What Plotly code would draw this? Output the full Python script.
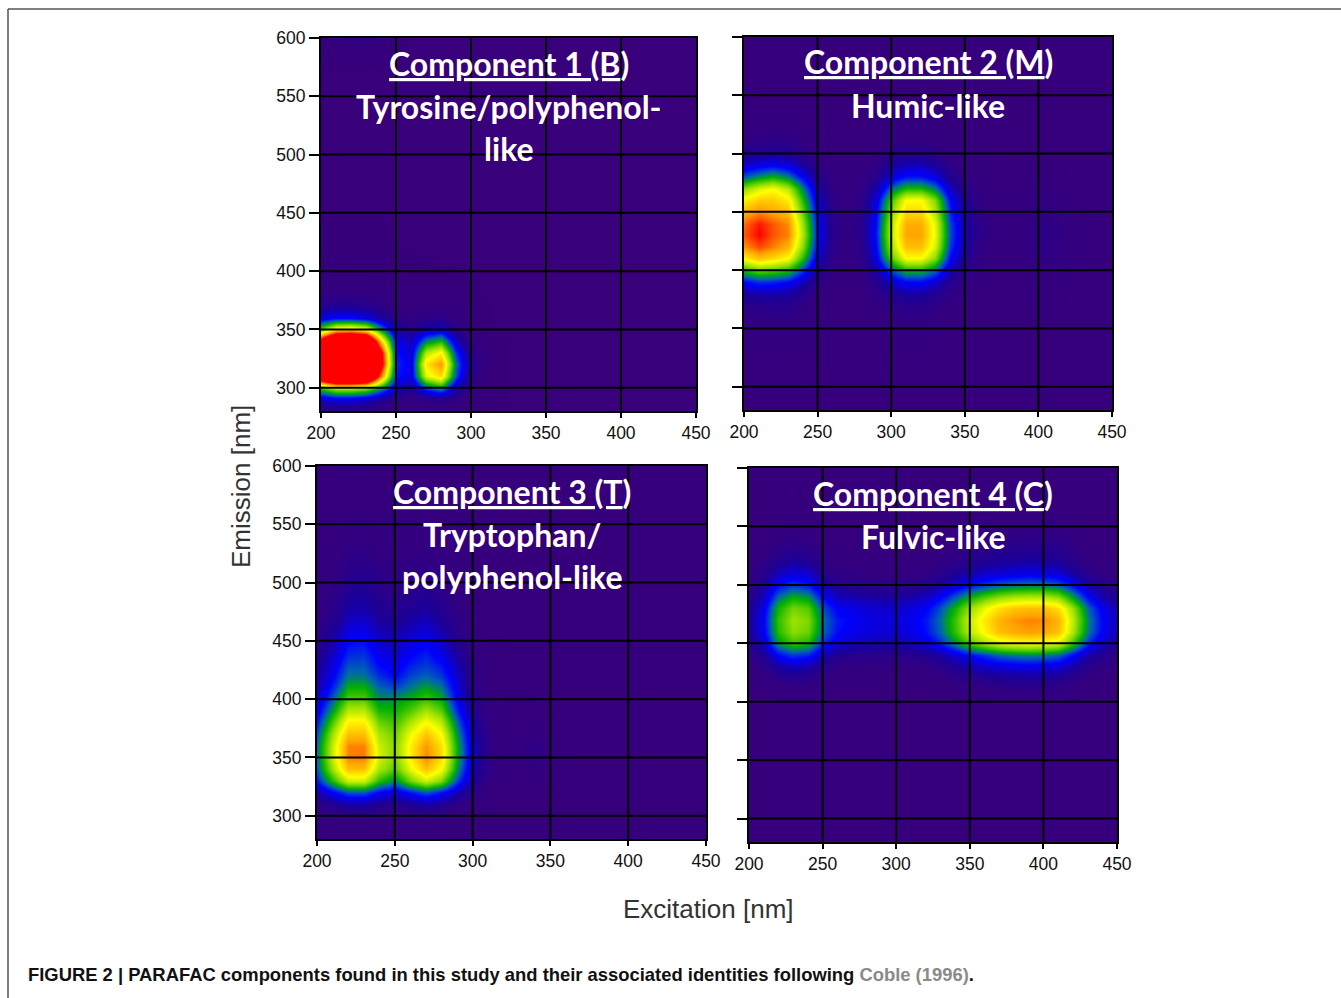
import plotly.graph_objects as go

# Excitation / emission grid (nm)
EXCITATION = [200, 210, 220, 230, 240, 250, 260, 270, 280, 290, 300, 310, 320,
              330, 340, 350, 360, 370, 380, 390, 400, 410, 420, 430, 440, 450]
EMISSION = [280, 290, 300, 310, 320, 330, 340, 350, 360, 370, 380, 390, 400, 410,
            420, 430, 440, 450, 460, 470, 480, 490, 500, 510, 520, 530, 540, 550,
            560, 570, 580, 590, 600]

EX_TICKS = [200, 250, 300, 350, 400, 450]
EM_TICKS = [300, 350, 400, 450, 500, 550, 600]

# Component loadings (relative intensity, %), one row per emission wavelength
C1_Z = [
    [8, 9, 9, 8, 6, 4, 3, 4, 5, 4, 2, 1, 0, 0, 0, 0, 0, 0, 0, 0, 0, 0, 0, 0, 0, 0],
    [22, 25, 25, 22, 16, 9, 6, 10, 12, 9, 4, 2, 1, 0, 0, 0, 0, 0, 0, 0, 0, 0, 0, 0, 0, 0],
    [50, 62, 62, 58, 42, 22, 16, 34, 42, 19, 8, 3, 1, 0, 0, 0, 0, 0, 0, 0, 0, 0, 0, 0, 0, 0],
    [130, 160, 160, 150, 88, 30, 24, 66, 76, 34, 12, 4, 1, 0, 0, 0, 0, 0, 0, 0, 0, 0, 0, 0, 0, 0],
    [150, 170, 170, 160, 108, 32, 25, 74, 86, 38, 14, 5, 1, 0, 0, 0, 0, 0, 0, 0, 0, 0, 0, 0, 0, 0],
    [145, 165, 165, 155, 105, 30, 23, 62, 72, 32, 12, 4, 1, 0, 0, 0, 0, 0, 0, 0, 0, 0, 0, 0, 0, 0],
    [110, 150, 150, 140, 78, 26, 20, 40, 47, 21, 8, 3, 1, 0, 0, 0, 0, 0, 0, 0, 0, 0, 0, 0, 0, 0],
    [52, 72, 75, 68, 40, 18, 12, 19, 22, 10, 5, 2, 0, 0, 0, 0, 0, 0, 0, 0, 0, 0, 0, 0, 0, 0],
    [24, 28, 28, 25, 17, 10, 7, 10, 12, 6, 3, 1, 0, 0, 0, 0, 0, 0, 0, 0, 0, 0, 0, 0, 0, 0],
    [13, 15, 15, 13, 10, 6, 4, 5, 6, 4, 2, 1, 0, 0, 0, 0, 0, 0, 0, 0, 0, 0, 0, 0, 0, 0],
    [7, 8, 8, 7, 6, 4, 3, 3, 3, 2, 1, 0, 0, 0, 0, 0, 0, 0, 0, 0, 0, 0, 0, 0, 0, 0],
    [4, 5, 5, 4, 4, 3, 2, 2, 2, 1, 1, 0, 0, 0, 0, 0, 0, 0, 0, 0, 0, 0, 0, 0, 0, 0],
    [3, 3, 3, 3, 2, 2, 1, 1, 1, 1, 0, 0, 0, 0, 0, 0, 0, 0, 0, 0, 0, 0, 0, 0, 0, 0],
    [2, 2, 2, 2, 2, 1, 1, 1, 0, 0, 0, 0, 0, 0, 0, 0, 0, 0, 0, 0, 0, 0, 0, 0, 0, 0],
    [1, 1, 1, 1, 1, 1, 0, 0, 0, 0, 0, 0, 0, 0, 0, 0, 0, 0, 0, 0, 0, 0, 0, 0, 0, 0],
    [1, 1, 1, 1, 1, 0, 0, 0, 0, 0, 0, 0, 0, 0, 0, 0, 0, 0, 0, 0, 0, 0, 0, 0, 0, 0],
    [1, 1, 1, 1, 1, 0, 0, 0, 0, 0, 0, 0, 0, 0, 0, 0, 0, 0, 0, 0, 0, 0, 0, 0, 0, 0],
    [0, 0, 0, 0, 0, 0, 0, 0, 0, 0, 0, 0, 0, 0, 0, 0, 0, 0, 0, 0, 0, 0, 0, 0, 0, 0],
    [0, 0, 0, 0, 0, 0, 0, 0, 0, 0, 0, 0, 0, 0, 0, 0, 0, 0, 0, 0, 0, 0, 0, 0, 0, 0],
    [0, 0, 0, 0, 0, 0, 0, 0, 0, 0, 0, 0, 0, 0, 0, 0, 0, 0, 0, 0, 0, 0, 0, 0, 0, 0],
    [0, 0, 0, 0, 0, 0, 0, 0, 0, 0, 0, 0, 0, 0, 0, 0, 0, 0, 0, 0, 0, 0, 0, 0, 0, 0],
    [0, 0, 0, 0, 0, 0, 0, 0, 0, 0, 0, 0, 0, 0, 0, 0, 0, 0, 0, 0, 0, 0, 0, 0, 0, 0],
    [0, 0, 0, 0, 0, 0, 0, 0, 0, 0, 0, 0, 0, 0, 0, 0, 0, 0, 0, 0, 0, 0, 0, 0, 0, 0],
    [0, 0, 0, 0, 0, 0, 0, 0, 0, 0, 0, 0, 0, 0, 0, 0, 0, 0, 0, 0, 0, 0, 0, 0, 0, 0],
    [0, 0, 0, 0, 0, 0, 0, 0, 0, 0, 0, 0, 0, 0, 0, 0, 0, 0, 0, 0, 0, 0, 0, 0, 0, 0],
    [0, 0, 0, 0, 0, 0, 0, 0, 0, 0, 0, 0, 0, 0, 0, 0, 0, 0, 0, 0, 0, 0, 0, 0, 0, 0],
    [0, 0, 0, 0, 0, 0, 0, 0, 0, 0, 0, 0, 0, 0, 0, 0, 0, 0, 0, 0, 0, 0, 0, 0, 0, 0],
    [0, 0, 0, 0, 0, 0, 0, 0, 0, 0, 0, 0, 0, 0, 0, 0, 0, 0, 0, 0, 0, 0, 0, 0, 0, 0],
    [0, 0, 0, 0, 0, 0, 0, 0, 0, 0, 0, 0, 0, 0, 0, 0, 0, 0, 0, 0, 0, 0, 0, 0, 0, 0],
    [0, 0, 0, 0, 0, 0, 0, 0, 0, 0, 0, 0, 0, 0, 0, 0, 0, 0, 0, 0, 0, 0, 0, 0, 0, 0],
    [1, 1, 2, 2, 1, 0, 0, 0, 0, 0, 0, 0, 0, 0, 0, 0, 0, 0, 0, 0, 0, 0, 0, 0, 0, 0],
    [2, 3, 4, 4, 3, 1, 0, 0, 0, 0, 0, 0, 0, 0, 0, 0, 0, 0, 0, 0, 0, 0, 0, 0, 0, 0],
    [4, 6, 9, 9, 6, 2, 0, 0, 0, 0, 0, 0, 0, 0, 0, 0, 0, 0, 0, 0, 0, 0, 0, 0, 0, 0],
]

C2_Z = [
    [2, 2, 2, 2, 2, 2, 2, 2, 2, 2, 2, 2, 2, 2, 2, 2, 2, 2, 2, 2, 2, 2, 2, 2, 2, 2],
    [2, 2, 2, 2, 2, 2, 2, 2, 2, 2, 2, 2, 2, 2, 2, 2, 2, 2, 2, 2, 2, 2, 2, 2, 2, 2],
    [3, 3, 3, 3, 3, 2, 2, 2, 2, 2, 2, 2, 2, 2, 2, 2, 2, 2, 2, 2, 2, 2, 2, 2, 2, 2],
    [3, 3, 3, 3, 3, 3, 2, 2, 2, 2, 3, 3, 3, 3, 2, 2, 2, 2, 2, 2, 2, 2, 2, 2, 2, 2],
    [4, 4, 4, 4, 4, 3, 3, 2, 2, 3, 3, 4, 4, 3, 3, 2, 2, 2, 2, 2, 2, 2, 2, 2, 2, 2],
    [4, 5, 5, 5, 4, 3, 3, 2, 3, 3, 4, 5, 5, 4, 3, 3, 2, 2, 2, 2, 2, 2, 2, 2, 2, 2],
    [5, 6, 6, 6, 5, 4, 3, 3, 3, 4, 5, 6, 6, 5, 4, 3, 2, 2, 2, 2, 2, 2, 2, 2, 2, 2],
    [6, 7, 7, 7, 6, 4, 3, 3, 3, 4, 6, 7, 7, 6, 5, 3, 3, 2, 2, 2, 2, 2, 2, 2, 2, 2],
    [8, 9, 9, 9, 7, 5, 3, 3, 4, 5, 7, 9, 9, 7, 5, 4, 3, 2, 2, 2, 3, 3, 2, 2, 2, 2],
    [11, 12, 12, 12, 9, 6, 4, 3, 4, 7, 10, 12, 12, 10, 7, 5, 3, 3, 2, 3, 3, 3, 3, 2, 2, 2],
    [17, 19, 19, 18, 13, 7, 4, 3, 5, 9, 14, 18, 18, 14, 9, 6, 4, 3, 3, 3, 4, 4, 3, 2, 2, 2],
    [28, 32, 31, 28, 20, 10, 5, 4, 6, 12, 22, 28, 28, 23, 13, 8, 5, 3, 3, 4, 5, 5, 4, 3, 2, 2],
    [48, 54, 52, 48, 33, 15, 7, 5, 8, 18, 35, 46, 46, 38, 20, 10, 6, 4, 4, 5, 6, 6, 5, 3, 2, 2],
    [72, 80, 76, 70, 48, 22, 10, 6, 10, 25, 52, 70, 70, 57, 28, 14, 8, 5, 5, 6, 8, 8, 6, 4, 3, 2],
    [86, 93, 88, 82, 56, 26, 11, 7, 11, 28, 59, 80, 80, 65, 33, 17, 9, 6, 6, 7, 9, 9, 6, 4, 3, 2],
    [92, 100, 92, 88, 60, 28, 12, 8, 12, 30, 62, 84, 84, 68, 35, 18, 10, 7, 6, 7, 9, 9, 6, 4, 3, 2],
    [90, 98, 92, 87, 58, 27, 12, 8, 12, 29, 61, 83, 83, 67, 34, 18, 10, 7, 6, 7, 9, 9, 6, 4, 3, 2],
    [82, 87, 84, 80, 53, 25, 11, 7, 11, 27, 56, 76, 76, 61, 31, 16, 9, 6, 6, 6, 8, 8, 5, 4, 3, 2],
    [72, 78, 78, 73, 47, 22, 10, 6, 10, 24, 50, 70, 70, 56, 28, 14, 8, 6, 5, 6, 7, 7, 5, 3, 2, 2],
    [58, 66, 70, 62, 40, 18, 9, 6, 9, 18, 38, 48, 48, 40, 21, 11, 7, 5, 4, 5, 5, 5, 4, 3, 2, 2],
    [36, 42, 46, 40, 27, 13, 7, 5, 7, 12, 24, 30, 30, 25, 14, 8, 6, 4, 4, 4, 4, 4, 3, 2, 2, 2],
    [22, 25, 27, 24, 17, 9, 5, 4, 5, 9, 16, 20, 20, 16, 10, 6, 4, 3, 3, 3, 3, 3, 3, 2, 2, 2],
    [14, 15, 16, 15, 11, 7, 4, 3, 4, 7, 11, 13, 13, 11, 7, 5, 3, 3, 2, 2, 2, 2, 2, 2, 2, 2],
    [9, 10, 10, 10, 8, 5, 3, 3, 3, 5, 7, 8, 8, 7, 5, 3, 3, 2, 2, 2, 2, 2, 2, 2, 2, 2],
    [6, 7, 7, 7, 6, 4, 3, 2, 3, 3, 5, 6, 6, 5, 3, 3, 2, 2, 2, 2, 2, 2, 2, 2, 2, 2],
    [4, 5, 5, 5, 4, 3, 2, 2, 2, 3, 3, 4, 4, 3, 3, 2, 2, 2, 2, 2, 2, 2, 2, 2, 2, 2],
    [3, 3, 3, 3, 3, 3, 2, 2, 2, 2, 3, 3, 3, 3, 2, 2, 2, 2, 2, 2, 2, 2, 2, 2, 2, 2],
    [2, 2, 2, 2, 2, 2, 2, 2, 2, 2, 2, 2, 2, 2, 2, 2, 2, 2, 2, 2, 2, 2, 2, 2, 2, 2],
    [2, 2, 2, 2, 2, 2, 2, 2, 2, 2, 2, 2, 2, 2, 2, 2, 2, 2, 2, 2, 2, 2, 2, 2, 2, 2],
    [2, 2, 2, 2, 2, 2, 2, 2, 2, 2, 2, 2, 2, 2, 2, 2, 2, 2, 2, 2, 2, 2, 2, 2, 2, 2],
    [2, 2, 2, 2, 2, 2, 2, 2, 2, 2, 2, 2, 2, 2, 2, 2, 2, 2, 2, 2, 2, 2, 2, 2, 2, 2],
    [2, 2, 2, 2, 2, 2, 2, 2, 2, 2, 2, 2, 2, 2, 2, 2, 2, 2, 2, 2, 2, 2, 2, 2, 2, 2],
    [2, 2, 2, 2, 2, 2, 2, 2, 2, 2, 2, 2, 2, 2, 2, 2, 2, 2, 2, 2, 2, 2, 2, 2, 2, 2],
]

C3_Z = [
    [3, 3, 3, 3, 3, 3, 3, 3, 3, 2, 2, 2, 2, 2, 2, 2, 2, 2, 2, 2, 2, 2, 2, 2, 2, 2],
    [4, 4, 4, 4, 4, 4, 4, 4, 4, 3, 2, 2, 2, 2, 2, 2, 2, 2, 2, 2, 2, 2, 2, 2, 2, 2],
    [6, 7, 8, 8, 7, 6, 7, 8, 7, 5, 3, 2, 2, 2, 2, 2, 2, 2, 2, 2, 2, 2, 2, 2, 2, 2],
    [10, 14, 18, 18, 14, 12, 15, 18, 15, 10, 5, 3, 2, 2, 2, 2, 2, 2, 2, 2, 2, 2, 2, 2, 2, 2],
    [18, 28, 36, 36, 28, 24, 30, 36, 30, 20, 10, 5, 3, 2, 2, 2, 2, 2, 2, 2, 2, 2, 2, 2, 2, 2],
    [30, 48, 64, 64, 48, 40, 54, 64, 56, 34, 16, 7, 4, 3, 3, 3, 2, 2, 2, 2, 2, 2, 2, 2, 2, 2],
    [36, 60, 80, 80, 60, 52, 67, 80, 70, 42, 19, 9, 5, 5, 7, 4, 3, 2, 2, 2, 2, 2, 2, 2, 2, 2],
    [38, 64, 88, 89, 65, 56, 72, 88, 76, 45, 21, 10, 6, 7, 10, 5, 3, 2, 2, 2, 2, 2, 2, 2, 2, 2],
    [38, 64, 88, 88, 64, 56, 72, 86, 75, 45, 21, 10, 6, 7, 10, 5, 3, 2, 2, 2, 2, 2, 2, 2, 2, 2],
    [35, 60, 80, 80, 60, 54, 68, 79, 70, 42, 19, 9, 5, 5, 7, 4, 3, 2, 2, 2, 2, 2, 2, 2, 2, 2],
    [30, 52, 72, 72, 54, 50, 60, 70, 62, 37, 17, 8, 5, 4, 3, 3, 2, 2, 2, 2, 2, 2, 2, 2, 2, 2],
    [25, 44, 62, 62, 47, 46, 52, 60, 53, 31, 14, 7, 4, 3, 3, 2, 2, 2, 2, 2, 2, 2, 2, 2, 2, 2],
    [21, 37, 52, 52, 41, 42, 45, 50, 45, 27, 12, 6, 4, 3, 3, 2, 2, 2, 2, 2, 2, 2, 2, 2, 2, 2],
    [18, 31, 45, 45, 37, 34, 39, 43, 39, 24, 11, 5, 3, 3, 2, 2, 2, 2, 2, 2, 2, 2, 2, 2, 2, 2],
    [16, 27, 39, 39, 32, 28, 34, 37, 33, 22, 10, 5, 3, 3, 2, 2, 2, 2, 2, 2, 2, 2, 2, 2, 2, 2],
    [14, 24, 35, 35, 28, 25, 30, 33, 29, 19, 9, 4, 3, 2, 2, 2, 2, 2, 2, 2, 2, 2, 2, 2, 2, 2],
    [12, 21, 31, 32, 25, 22, 27, 30, 25, 16, 8, 4, 3, 2, 2, 2, 2, 2, 2, 2, 2, 2, 2, 2, 2, 2],
    [10, 18, 28, 29, 22, 20, 24, 27, 22, 13, 7, 4, 3, 2, 2, 2, 2, 2, 2, 2, 2, 2, 2, 2, 2, 2],
    [9, 15, 24, 25, 19, 17, 20, 23, 18, 11, 6, 3, 2, 2, 2, 2, 2, 2, 2, 2, 2, 2, 2, 2, 2, 2],
    [7, 12, 20, 21, 16, 14, 17, 19, 15, 9, 5, 3, 2, 2, 2, 2, 2, 2, 2, 2, 2, 2, 2, 2, 2, 2],
    [6, 11, 17, 18, 14, 12, 14, 16, 13, 8, 4, 3, 2, 2, 2, 2, 2, 2, 2, 2, 2, 2, 2, 2, 2, 2],
    [5, 9, 15, 16, 12, 10, 12, 14, 11, 7, 4, 3, 2, 2, 2, 2, 2, 2, 2, 2, 2, 2, 2, 2, 2, 2],
    [5, 8, 13, 14, 11, 9, 10, 12, 10, 6, 4, 3, 2, 2, 2, 2, 2, 2, 2, 2, 2, 2, 2, 2, 2, 2],
    [4, 7, 11, 12, 10, 8, 9, 10, 8, 5, 3, 2, 2, 2, 2, 2, 2, 2, 2, 2, 2, 2, 2, 2, 2, 2],
    [4, 6, 10, 10, 8, 7, 8, 8, 7, 5, 3, 2, 2, 2, 2, 2, 2, 2, 2, 2, 2, 2, 2, 2, 2, 2],
    [3, 5, 8, 9, 7, 6, 6, 7, 6, 4, 3, 2, 2, 2, 2, 2, 2, 2, 2, 2, 2, 2, 2, 2, 2, 2],
    [3, 5, 7, 7, 6, 5, 5, 6, 5, 4, 3, 2, 2, 2, 2, 2, 2, 2, 2, 2, 2, 2, 2, 2, 2, 2],
    [3, 4, 6, 6, 5, 4, 4, 5, 4, 3, 2, 2, 2, 2, 2, 2, 2, 2, 2, 2, 2, 2, 2, 2, 2, 2],
    [3, 4, 5, 5, 4, 3, 3, 4, 3, 3, 2, 2, 2, 2, 2, 2, 2, 2, 2, 2, 2, 2, 2, 2, 2, 2],
    [3, 3, 4, 4, 3, 3, 3, 3, 3, 2, 2, 2, 2, 2, 2, 2, 2, 2, 2, 2, 2, 2, 2, 2, 2, 2],
    [3, 3, 4, 4, 3, 3, 3, 3, 3, 2, 2, 2, 2, 2, 2, 2, 2, 2, 2, 2, 2, 2, 2, 2, 2, 2],
    [2, 3, 3, 3, 3, 2, 2, 3, 2, 2, 2, 2, 2, 2, 2, 2, 2, 2, 2, 2, 2, 2, 2, 2, 2, 2],
    [2, 2, 3, 3, 2, 2, 2, 2, 2, 2, 2, 2, 2, 2, 2, 2, 2, 2, 2, 2, 2, 2, 2, 2, 2, 2],
]

C4_Z = [
    [2, 2, 2, 2, 2, 2, 2, 2, 2, 2, 2, 2, 2, 2, 2, 2, 2, 2, 2, 2, 2, 2, 2, 2, 2, 2],
    [2, 2, 2, 2, 2, 2, 2, 2, 2, 2, 2, 2, 2, 2, 2, 2, 2, 2, 2, 2, 2, 2, 2, 2, 2, 2],
    [2, 2, 2, 2, 2, 2, 2, 2, 2, 2, 2, 2, 2, 2, 2, 2, 2, 2, 2, 2, 2, 2, 2, 2, 2, 2],
    [2, 2, 2, 2, 2, 2, 2, 2, 2, 2, 2, 2, 2, 2, 2, 2, 2, 2, 2, 2, 2, 2, 2, 2, 2, 2],
    [2, 2, 2, 2, 2, 2, 2, 2, 2, 2, 2, 2, 2, 2, 2, 2, 2, 2, 2, 2, 2, 2, 2, 2, 2, 2],
    [2, 2, 2, 2, 2, 2, 2, 2, 2, 2, 2, 2, 2, 2, 2, 2, 2, 2, 2, 2, 2, 2, 2, 2, 2, 2],
    [2, 2, 2, 2, 2, 2, 2, 2, 2, 2, 2, 2, 2, 2, 2, 2, 2, 2, 2, 2, 2, 2, 2, 2, 2, 2],
    [2, 2, 2, 2, 2, 2, 2, 2, 2, 2, 2, 2, 2, 2, 2, 2, 2, 2, 2, 2, 2, 2, 2, 2, 2, 2],
    [2, 2, 2, 2, 2, 2, 2, 2, 2, 2, 2, 2, 2, 2, 2, 2, 2, 2, 2, 2, 2, 2, 2, 2, 2, 2],
    [2, 2, 2, 2, 2, 2, 2, 2, 2, 2, 2, 2, 2, 2, 2, 2, 2, 2, 2, 2, 2, 2, 2, 2, 2, 2],
    [2, 2, 2, 2, 2, 2, 2, 2, 2, 2, 2, 2, 2, 2, 2, 2, 2, 3, 3, 3, 3, 3, 2, 2, 2, 2],
    [2, 2, 2, 2, 2, 2, 2, 2, 2, 2, 2, 2, 2, 2, 2, 3, 3, 3, 3, 3, 3, 3, 3, 2, 2, 2],
    [2, 2, 3, 3, 3, 2, 2, 2, 2, 2, 2, 2, 2, 2, 3, 4, 4, 5, 5, 5, 5, 5, 4, 2, 2, 2],
    [2, 3, 5, 6, 6, 4, 3, 3, 3, 2, 2, 3, 3, 4, 5, 6, 7, 8, 9, 9, 9, 8, 6, 4, 3, 2],
    [3, 6, 10, 12, 11, 7, 5, 5, 4, 4, 4, 4, 5, 6, 9, 11, 13, 14, 15, 15, 15, 14, 11, 7, 5, 4],
    [5, 10, 17, 20, 18, 12, 8, 8, 7, 7, 7, 7, 8, 11, 14, 18, 21, 23, 24, 25, 24, 23, 17, 11, 8, 6],
    [8, 15, 28, 33, 31, 20, 14, 12, 11, 11, 11, 12, 14, 17, 23, 29, 33, 37, 39, 40, 39, 37, 28, 18, 13, 9],
    [12, 23, 42, 50, 47, 32, 24, 21, 20, 19, 19, 21, 24, 31, 41, 52, 60, 66, 69, 70, 69, 66, 50, 32, 22, 16],
    [15, 27, 48, 57, 54, 37, 29, 26, 24, 23, 23, 25, 29, 37, 49, 62, 72, 80, 83, 85, 84, 80, 60, 39, 27, 19],
    [15, 28, 49, 59, 56, 38, 30, 27, 25, 24, 24, 26, 30, 38, 50, 64, 74, 82, 86, 88, 87, 82, 62, 40, 28, 20],
    [14, 26, 46, 55, 52, 35, 27, 25, 23, 22, 22, 24, 27, 35, 46, 58, 68, 75, 79, 80, 80, 75, 58, 37, 26, 19],
    [11, 21, 38, 45, 42, 28, 21, 19, 17, 17, 17, 18, 21, 27, 36, 45, 52, 57, 60, 61, 61, 57, 43, 28, 19, 14],
    [9, 16, 28, 33, 30, 19, 14, 12, 11, 10, 10, 11, 13, 17, 23, 29, 33, 36, 38, 39, 39, 36, 28, 18, 13, 9],
    [7, 12, 20, 24, 22, 13, 8, 8, 7, 7, 7, 7, 8, 11, 14, 18, 21, 23, 24, 25, 24, 23, 17, 11, 8, 6],
    [5, 9, 14, 17, 15, 9, 6, 5, 5, 5, 5, 5, 6, 8, 10, 13, 15, 16, 17, 18, 17, 16, 12, 8, 6, 4],
    [4, 6, 10, 12, 11, 7, 5, 4, 4, 4, 4, 4, 5, 6, 8, 10, 11, 12, 13, 13, 13, 12, 9, 6, 4, 3],
    [3, 4, 7, 8, 7, 5, 4, 3, 3, 3, 3, 3, 3, 4, 6, 7, 8, 9, 9, 10, 10, 9, 7, 4, 3, 2],
    [2, 3, 5, 6, 5, 3, 3, 2, 2, 2, 2, 2, 2, 3, 4, 5, 6, 7, 7, 7, 7, 7, 5, 3, 2, 2],
    [2, 2, 3, 4, 3, 2, 2, 2, 2, 2, 2, 2, 2, 2, 3, 4, 4, 5, 5, 5, 5, 5, 4, 2, 2, 2],
    [2, 2, 3, 3, 3, 2, 2, 2, 2, 2, 2, 2, 2, 2, 2, 3, 4, 4, 4, 4, 4, 4, 3, 2, 2, 2],
    [2, 2, 2, 3, 2, 2, 2, 2, 2, 2, 2, 2, 2, 2, 2, 3, 3, 3, 3, 3, 3, 3, 3, 2, 2, 2],
    [2, 2, 2, 2, 2, 2, 2, 2, 2, 2, 2, 2, 2, 2, 2, 2, 3, 3, 3, 3, 3, 3, 2, 2, 2, 2],
    [2, 2, 2, 2, 2, 2, 2, 2, 2, 2, 2, 2, 2, 2, 2, 2, 2, 2, 2, 2, 2, 2, 2, 2, 2, 2],
]

COMPONENT_TITLES = ["Component 1 (B", "Component 2 (M", "Component 3 (T", "Component 4 (C"]
COMPONENT_NAMES = ["Tyrosine/polyphenol-<br>like", "Humic-like",
                   "Tryptophan/<br>polyphenol-like", "Fulvic-like"]

for grid in (C1_Z, C2_Z, C3_Z, C4_Z):
    assert len(grid) == len(EMISSION)
    assert all(len(r) == len(EXCITATION) for r in grid)

W, H = 1341, 998

# subplot boxes in pixels: (left, right, top, bottom)
BOXES = [(321, 696, 38, 411), (744, 1112, 37, 410),
         (317, 706, 466, 839), (749, 1117, 468, 842)]

COLORSCALE = [
    [0.00, "#38007a"],
    [0.08, "#310082"],
    [0.16, "#1c0098"],
    [0.28, "#0000ff"],
    [0.37, "#0062b4"],
    [0.45, "#00b000"],
    [0.58, "#96e000"],
    [0.70, "#ffff00"],
    [0.85, "#ffa000"],
    [1.00, "#ff0000"],
]

TICK_FONT = dict(family="Liberation Sans, Arial, sans-serif", size=17.5, color="#111111")
TITLE_FONT = dict(family="Lato, sans-serif", size=32, color="white")
AXIS_TITLE_FONT = dict(family="Liberation Sans Narrow, Arial Narrow, Liberation Sans, sans-serif",
                       size=26, color="#333333")

fig = go.Figure()
shapes = []
annotations = []

for i, (z, box) in enumerate(zip((C1_Z, C2_Z, C3_Z, C4_Z), BOXES)):
    n = "" if i == 0 else str(i + 1)
    xa, ya = "x" + n, "y" + n
    fig.add_trace(go.Heatmap(
        x=EXCITATION, y=EMISSION, z=z, xaxis=xa, yaxis=ya,
        colorscale=COLORSCALE, zmin=0, zmax=100, zsmooth="best",
        showscale=False, hoverinfo="skip"))
    l, r, t, b = box
    axis_common = dict(showgrid=False, zeroline=False, showline=True, mirror=True,
                       linecolor="black", linewidth=2, ticks="outside",
                       tickcolor="black", tickwidth=1.5, layer="above traces",
                       automargin=False, tickfont=TICK_FONT)
    fig.update_layout(**{
        "xaxis" + n: dict(axis_common, domain=[l / W, r / W], range=[200, 450],
                          tickvals=EX_TICKS, ticklen=5, anchor=ya),
        "yaxis" + n: dict(axis_common, domain=[1 - b / H, 1 - t / H], range=[280, 600],
                          tickvals=EM_TICKS, ticklen=10, anchor=xa,
                          showticklabels=(i % 2 == 0)),
    })
    # grid lines drawn on top of the intensity map
    for v in EX_TICKS[1:-1]:
        shapes.append(dict(type="line", xref=xa, yref=ya + " domain", x0=v, x1=v,
                           y0=0, y1=1, line=dict(color="black", width=2), layer="above"))
    for v in EM_TICKS[:-1]:
        shapes.append(dict(type="line", xref=xa + " domain", yref=ya, x0=0, x1=1,
                           y0=v, y1=v, line=dict(color="black", width=2), layer="above"))
    cx = (l + r) / 2 / W
    annotations.append(dict(
        xref="paper", yref="paper", x=cx, y=1 - (t + 25) / H, xanchor="center",
        yanchor="middle", showarrow=False,
        text='<b><span style="text-decoration:underline">' + COMPONENT_TITLES[i]
             + '</span>)</b>',
        font=TITLE_FONT))
    annotations.append(dict(
        xref="paper", yref="paper", x=cx, y=1 - (t + 47) / H, xanchor="center",
        yanchor="top", showarrow=False, text="<b>" + COMPONENT_NAMES[i] + "</b>",
        font=TITLE_FONT))

annotations += [
    dict(xref="paper", yref="paper", x=241 / W, y=1 - 487 / H, textangle=-90,
         showarrow=False, text="Emission [nm]", xanchor="center", yanchor="middle",
         font=AXIS_TITLE_FONT),
    dict(xref="paper", yref="paper", x=709 / W, y=1 - 909 / H,
         showarrow=False, text="Excitation [nm]", xanchor="center", yanchor="middle",
         font=AXIS_TITLE_FONT),
    dict(xref="paper", yref="paper", x=26 / W, y=1 - 974 / H, xanchor="left",
         yanchor="middle", showarrow=False,
         text="<b>FIGURE 2 | PARAFAC components found in this study and their associated "
              "identities following <span style='color:#8a8a8a'>Coble (1996)</span>.</b>",
         font=dict(family="Liberation Sans Narrow, Arial Narrow, Liberation Sans, sans-serif",
                   size=18.4, color="#111111")),
]

# figure frame (top and left rules)
shapes += [
    dict(type="line", xref="paper", yref="paper", x0=8 / W, x1=1, y0=1 - 9 / H, y1=1 - 9 / H,
         line=dict(color="#555555", width=1.5)),
    dict(type="line", xref="paper", yref="paper", x0=8 / W, x1=8 / W, y0=0, y1=1 - 9 / H,
         line=dict(color="#555555", width=1.5)),
]

fig.update_layout(width=W, height=H, margin=dict(l=0, r=0, t=0, b=0, pad=0, autoexpand=False),
                  paper_bgcolor="white", plot_bgcolor="#38007a",
                  shapes=shapes, annotations=annotations, showlegend=False)

fig.write_html("out.html",
               post_script="document.body.style.margin='0';"
                           "document.body.style.overflow='hidden';")
